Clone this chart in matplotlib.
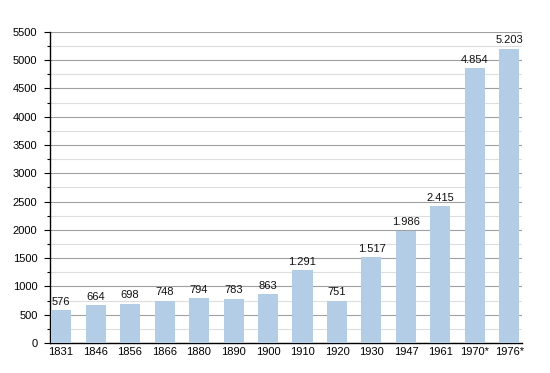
import matplotlib
matplotlib.use("Agg")
import matplotlib.pyplot as plt
from matplotlib.ticker import MultipleLocator

years = ["1831", "1846", "1856", "1866", "1880", "1890", "1900", "1910",
         "1920", "1930", "1947", "1961", "1970*", "1976*"]
population = [576, 664, 698, 748, 794, 783, 863, 1291, 751, 1517, 1986,
              2415, 4854, 5203]

plt.rcParams['font.family'] = ['Liberation Sans', 'DejaVu Sans']

fig = plt.figure(figsize=(5.5, 3.73), dpi=100)
ax = fig.add_axes([0.0909, 0.0804, 0.858, 0.834])

x = list(range(len(years)))
ax.bar(x, population, width=0.58, color='#b3cde6', zorder=3)

# value labels with dot as thousands separator
for xi, v in zip(x, population):
    ax.text(xi, v + 60, f"{v:,}".replace(",", "."), ha='center', va='bottom',
            fontsize=8, color='#111111', zorder=4)

ax.set_ylim(0, 5500)
ax.set_xlim(-0.32, 13.36)
ax.yaxis.set_major_locator(MultipleLocator(500))
ax.yaxis.set_minor_locator(MultipleLocator(250))
ax.grid(axis='y', which='major', color='#a0a0a0', linewidth=0.8, zorder=0)
ax.grid(axis='y', which='minor', color='#dedede', linewidth=0.8, zorder=0)

ax.set_xticks(x)
ax.set_xticklabels(years)
ax.tick_params(axis='x', length=0, pad=3, labelsize=8)
ax.tick_params(axis='y', which='major', length=4, width=0.8, pad=5, labelsize=8)
ax.tick_params(axis='y', which='minor', length=2.5, width=0.8)

for s in ['top', 'right']:
    ax.spines[s].set_visible(False)
for s in ['left', 'bottom']:
    ax.spines[s].set_color('black')
    ax.spines[s].set_linewidth(1.0)

fig.savefig("out.png", dpi=100)
